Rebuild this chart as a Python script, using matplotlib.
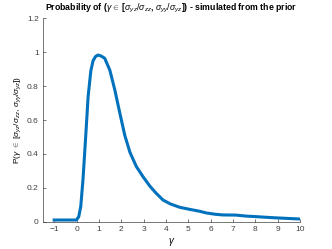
import matplotlib
matplotlib.use('Agg')
import matplotlib.pyplot as plt

# curve
gamma = [-1.0, -0.5, 0.0, 0.1, 0.19, 0.29, 0.40, 0.52, 0.64, 0.74, 0.85, 0.96,
         1.1, 1.26, 1.49, 1.71, 1.94, 2.16, 2.39, 2.68, 2.98, 3.27, 3.55,
         3.87, 4.2, 4.62, 5.06, 5.5, 5.8, 6.2, 6.54, 7.14, 7.6, 8.03, 8.5,
         8.9, 9.5, 10.0]
prob = [0.01, 0.01, 0.01, 0.03, 0.09, 0.25, 0.48, 0.74, 0.89, 0.95, 0.975, 0.984,
        0.978, 0.965, 0.895, 0.78, 0.64, 0.51, 0.41, 0.325, 0.265, 0.212, 0.17,
        0.128, 0.105, 0.085, 0.073, 0.062, 0.052, 0.044, 0.04, 0.039, 0.033, 0.03, 0.026,
        0.023, 0.019, 0.016]

xticks = list(range(-1, 11))
yticks = [0, 0.2, 0.4, 0.6, 0.8, 1, 1.2]
yticklabels = ['0', '0.2', '0.4', '0.6', '0.8', '1', '1.2']

plt.rcParams['font.family'] = ['Liberation Sans', 'DejaVu Sans']
plt.rcParams['mathtext.fontset'] = 'custom'
plt.rcParams['mathtext.rm'] = 'Liberation Sans'
plt.rcParams['mathtext.it'] = 'Liberation Sans:italic'
plt.rcParams['mathtext.bf'] = 'Liberation Sans:bold'

fig = plt.figure(figsize=(3.32, 2.49), dpi=100)
ax = fig.add_axes([0.1295, 0.1096, 0.7741, 0.8164])

ax.plot(gamma, prob, color='#0072BD', linewidth=2.2)

ax.set_xlim(-1.5, 10)
ax.set_ylim(0, 1.2)
ax.set_xticks(xticks)
ax.set_yticks(yticks)
ax.set_yticklabels(yticklabels)

for s in ['top', 'right']:
    ax.spines[s].set_visible(False)
for s in ['left', 'bottom']:
    ax.spines[s].set_color('#404040')
    ax.spines[s].set_linewidth(0.5)
ax.tick_params(direction='in', length=2.5, width=0.5, colors='#404040',
               labelsize=6, pad=3)

ax.set_title(r'Probability of ($\gamma$$\in$ [$\sigma_{yz}/\sigma_{zz}$, $\sigma_{yy}/\sigma_{yz}$]) - simulated from the prior',
             fontsize=6.3, fontweight='bold', pad=6)
ax.set_xlabel(r'$\gamma$', fontsize=7, labelpad=2)
ax.set_ylabel(r'P($\gamma$ $\in$ [$\sigma_{yz}/\sigma_{zz}$, $\sigma_{yy}/\sigma_{yz}$])', fontsize=6, labelpad=3)

fig.savefig('out.png', dpi=100)
